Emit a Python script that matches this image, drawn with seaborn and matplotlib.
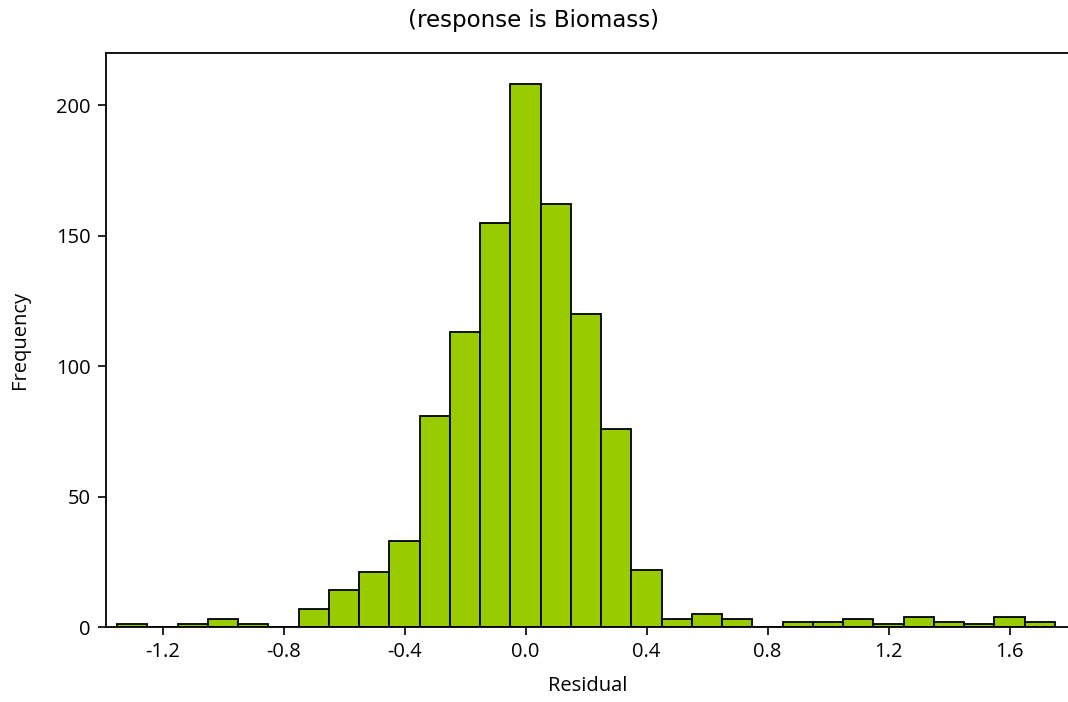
import numpy as np
import pandas as pd
import matplotlib
matplotlib.use("Agg")
import matplotlib.pyplot as plt
import seaborn as sns

# Bin centres (width 0.1) and counts
bin_centers = [-1.3, -1.2, -1.1, -1.0, -0.9, -0.8, -0.7, -0.6, -0.5, -0.4,
               -0.3, -0.2, -0.1, 0.0, 0.1, 0.2, 0.3, 0.4, 0.5, 0.6,
               0.7, 0.8, 0.9, 1.0, 1.1, 1.2, 1.3, 1.4, 1.5, 1.6, 1.7]
counts = [1, 0, 1, 3, 1, 0, 7, 14, 21, 33,
          81, 113, 155, 208, 162, 120, 76, 22, 3, 5,
          3, 0, 2, 2, 3, 1, 4, 2, 1, 4, 2]
x_ticks = [-1.2, -0.8, -0.4, 0.0, 0.4, 0.8, 1.2, 1.6]
y_ticks = [0, 50, 100, 150, 200]

df = pd.DataFrame({"Residual": bin_centers, "Frequency": counts})

sns.set_theme(style="white")
plt.rcParams["font.family"] = ["Open Sans", "DejaVu Sans"]

fig = plt.figure(figsize=(10.68, 7.02), dpi=100)
ax = fig.add_axes([0.0993, 0.1068, 0.9026, 0.8177])

sns.histplot(data=df, x="Residual", weights="Frequency",
             binwidth=0.1, binrange=(-1.35, 1.75),
             color="#99CC00", edgecolor="black", linewidth=1.3, alpha=1.0, ax=ax)

ax.set_xlim(-1.387, 1.80)
ax.set_ylim(0, 220)
ax.set_xticks(x_ticks)
ax.set_xticklabels([f"{t:.1f}" for t in x_ticks])
ax.set_yticks(y_ticks)
ax.tick_params(axis="both", direction="out", length=6, width=1.2, color="black",
               labelsize=14.5, labelcolor="black", bottom=True, left=True, pad=5)
for s in ax.spines.values():
    s.set_color("black")
    s.set_linewidth(1.3)
ax.spines["right"].set_visible(False)
ax.set_xlabel("Residual", fontsize=14.5, color="black")
ax.set_ylabel("Frequency", fontsize=14.5, color="black")
ax.xaxis.set_label_coords(0.5, -0.085)
ax.yaxis.set_label_coords(-0.079, 0.5)
fig.text(0.5, 0.9715, "(response is Biomass)", ha="center", va="center",
         fontsize=16.5, color="black", family=["DejaVu Sans"])

fig.savefig("out.png", dpi=100)
